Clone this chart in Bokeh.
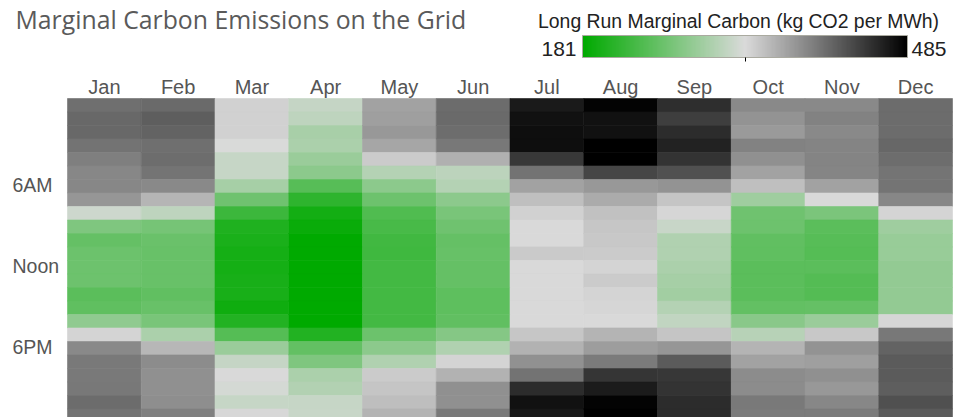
import pandas as pd
from bokeh.plotting import figure
from bokeh.models import (Range1d, LinearColorMapper, ColorBar, FixedTicker,
                          Label, ColumnDataSource)
from bokeh.transform import transform
from bokeh.embed import file_html
from bokeh.resources import INLINE

# ---------------- data ----------------
months = ["Jan", "Feb", "Mar", "Apr", "May", "Jun",
          "Jul", "Aug", "Sep", "Oct", "Nov", "Dec"]
hours = list(range(24))
hour_tick_labels = {6: "6AM", 12: "Noon", 18: "6PM"}
c_low, c_high = 181, 485
title_text = "Marginal Carbon Emissions on the Grid"
cbar_title = "Long Run Marginal Carbon (kg CO2 per MWh)"

# kg CO2 per MWh, hour 0..23 for each month
jan = [407, 412, 412, 405, 396, 391, 391, 380, 324, 270, 252, 256, 258, 258, 244, 248, 281, 337, 389, 400, 400, 401, 410, 405]
feb = [411, 419, 415, 407, 408, 404, 389, 358, 313, 263, 255, 254, 254, 254, 249, 254, 266, 300, 357, 387, 385, 385, 386, 397]
mar = [340, 340, 340, 332, 319, 319, 297, 259, 223, 203, 199, 196, 196, 198, 198, 192, 205, 241, 288, 318, 334, 329, 319, 335]
apr = [318, 313, 298, 300, 288, 279, 242, 214, 195, 188, 182, 181, 181, 181, 181, 181, 181, 205, 251, 269, 300, 305, 319, 320]
may = [371, 374, 379, 369, 343, 306, 279, 258, 237, 231, 227, 226, 228, 228, 228, 228, 228, 256, 279, 304, 343, 348, 353, 360]
jun = [410, 411, 408, 401, 362, 312, 306, 279, 266, 259, 252, 253, 252, 252, 247, 247, 249, 274, 304, 337, 361, 385, 385, 400]
jul = [467, 472, 475, 475, 445, 405, 372, 351, 340, 334, 334, 344, 334, 334, 334, 334, 333, 347, 361, 383, 405, 453, 472, 468]
aug = [482, 472, 472, 484, 484, 436, 379, 366, 350, 347, 346, 343, 337, 343, 337, 336, 333, 360, 375, 399, 447, 465, 482, 485]
sep = [452, 442, 454, 461, 449, 428, 382, 348, 336, 320, 304, 304, 300, 297, 294, 306, 316, 348, 380, 421, 446, 449, 453, 453]
oct = [389, 382, 378, 394, 385, 372, 351, 292, 259, 258, 249, 248, 244, 244, 244, 251, 276, 309, 360, 372, 387, 387, 400, 399]
nov = [389, 394, 389, 393, 393, 392, 372, 334, 267, 245, 242, 241, 244, 240, 240, 252, 288, 346, 382, 374, 385, 379, 390, 399]
dec = [410, 410, 410, 413, 408, 404, 404, 390, 337, 292, 287, 287, 284, 284, 284, 284, 336, 401, 415, 422, 422, 419, 428, 421]
month_values = [jan, feb, mar, apr, may, jun, jul, aug, sep, oct, nov, dec]

# ---------------- styling / layout ----------------
W, H = 958, 417
GRID_L, GRID_T, GRID_R = 67, 98, 952   # heat-map block in page pixels
ROW_PX = 13.5                          # pixel height of one hour row
COL_PX = (GRID_R - GRID_L) / len(months)


def xd(px):
    return (px - GRID_L) / COL_PX


def yd(py):
    return (py - GRID_T) / ROW_PX


def _mix(a, b, t):
    return tuple(int(round(a[k] + (b[k] - a[k]) * t)) for k in range(3))


green, mid, black = (0, 170, 0), (218, 218, 218), (0, 0, 0)
palette = []
for i in range(256):
    t = i / 255
    c = _mix(green, mid, t / 0.5) if t <= 0.5 else _mix(mid, black, (t - 0.5) / 0.5)
    palette.append("#%02x%02x%02x" % c)

mapper = LinearColorMapper(palette=palette, low=c_low, high=c_high)

rows = []
for mi, vals in enumerate(month_values):
    for h, v in zip(hours, vals):
        rows.append({"x": mi + 0.5, "y": h + 0.5, "value": v,
                     "month": months[mi], "hour": h})
source = ColumnDataSource(pd.DataFrame(rows))

# the frame spans the whole canvas; month columns / hour rows are data units
p = figure(width=W, height=H, output_backend="svg", toolbar_location=None,
           x_range=Range1d(xd(0), xd(W)),
           y_range=Range1d(yd(H), yd(0)),
           x_axis_location=None, y_axis_location=None, title=None,
           min_border=0)
p.outline_line_color = None
p.grid.visible = False
p.background_fill_color = "white"
p.border_fill_color = "white"

p.rect(x="x", y="y", width=1, height=1, source=source,
       fill_color=transform("value", mapper),
       line_color=transform("value", mapper), line_width=0.6)


def page_label(px, py_mid, text, align, size, color, font="Liberation Sans"):
    p.add_layout(Label(x=xd(px), y=yd(py_mid), text=text, text_align=align,
                       text_baseline="middle", text_font=font,
                       text_font_size=size, text_color=color))


# month labels (centred on their columns)
for i, m in enumerate(months):
    p.add_layout(Label(x=i + 0.5, y=yd(86.7), text=m, text_align="center",
                       text_baseline="middle", text_font="Liberation Sans",
                       text_font_size="20px", text_color="#555555"))
# hour labels (centred on their rows)
for h, t in hour_tick_labels.items():
    p.add_layout(Label(x=xd(12), y=h + 0.5 - 0.1, text=t, text_align="left",
                       text_baseline="middle", text_font="Liberation Sans",
                       text_font_size="19.5px", text_color="#555555"))
# chart title
page_label(15, 18.5, title_text, "left", "24.8px", "#5a5a5a", font="Open Sans")

# colour bar (location: offset of its box from the frame's bottom-left corner)
cb = ColorBar(color_mapper=mapper, orientation="horizontal", width=325, height=22,
              location=(582, H - 61), padding=0, margin=0,
              ticker=FixedTicker(ticks=[(c_low + c_high) / 2]),
              major_label_overrides={(c_low + c_high) / 2: ""},
              major_label_text_font_size="0px", label_standoff=0,
              major_tick_in=0, major_tick_out=4, major_tick_line_color="black",
              bar_line_color="#aaaaa0", border_line_color=None,
              background_fill_color=None)
p.add_layout(cb)
page_label(738, 20.7, cbar_title, "center", "19.4px", "#222222")
page_label(576, 48, str(c_low), "right", "21px", "#222222")
page_label(911, 48, str(c_high), "left", "21px", "#222222")

open("out.html", "w").write(file_html(p, INLINE))
